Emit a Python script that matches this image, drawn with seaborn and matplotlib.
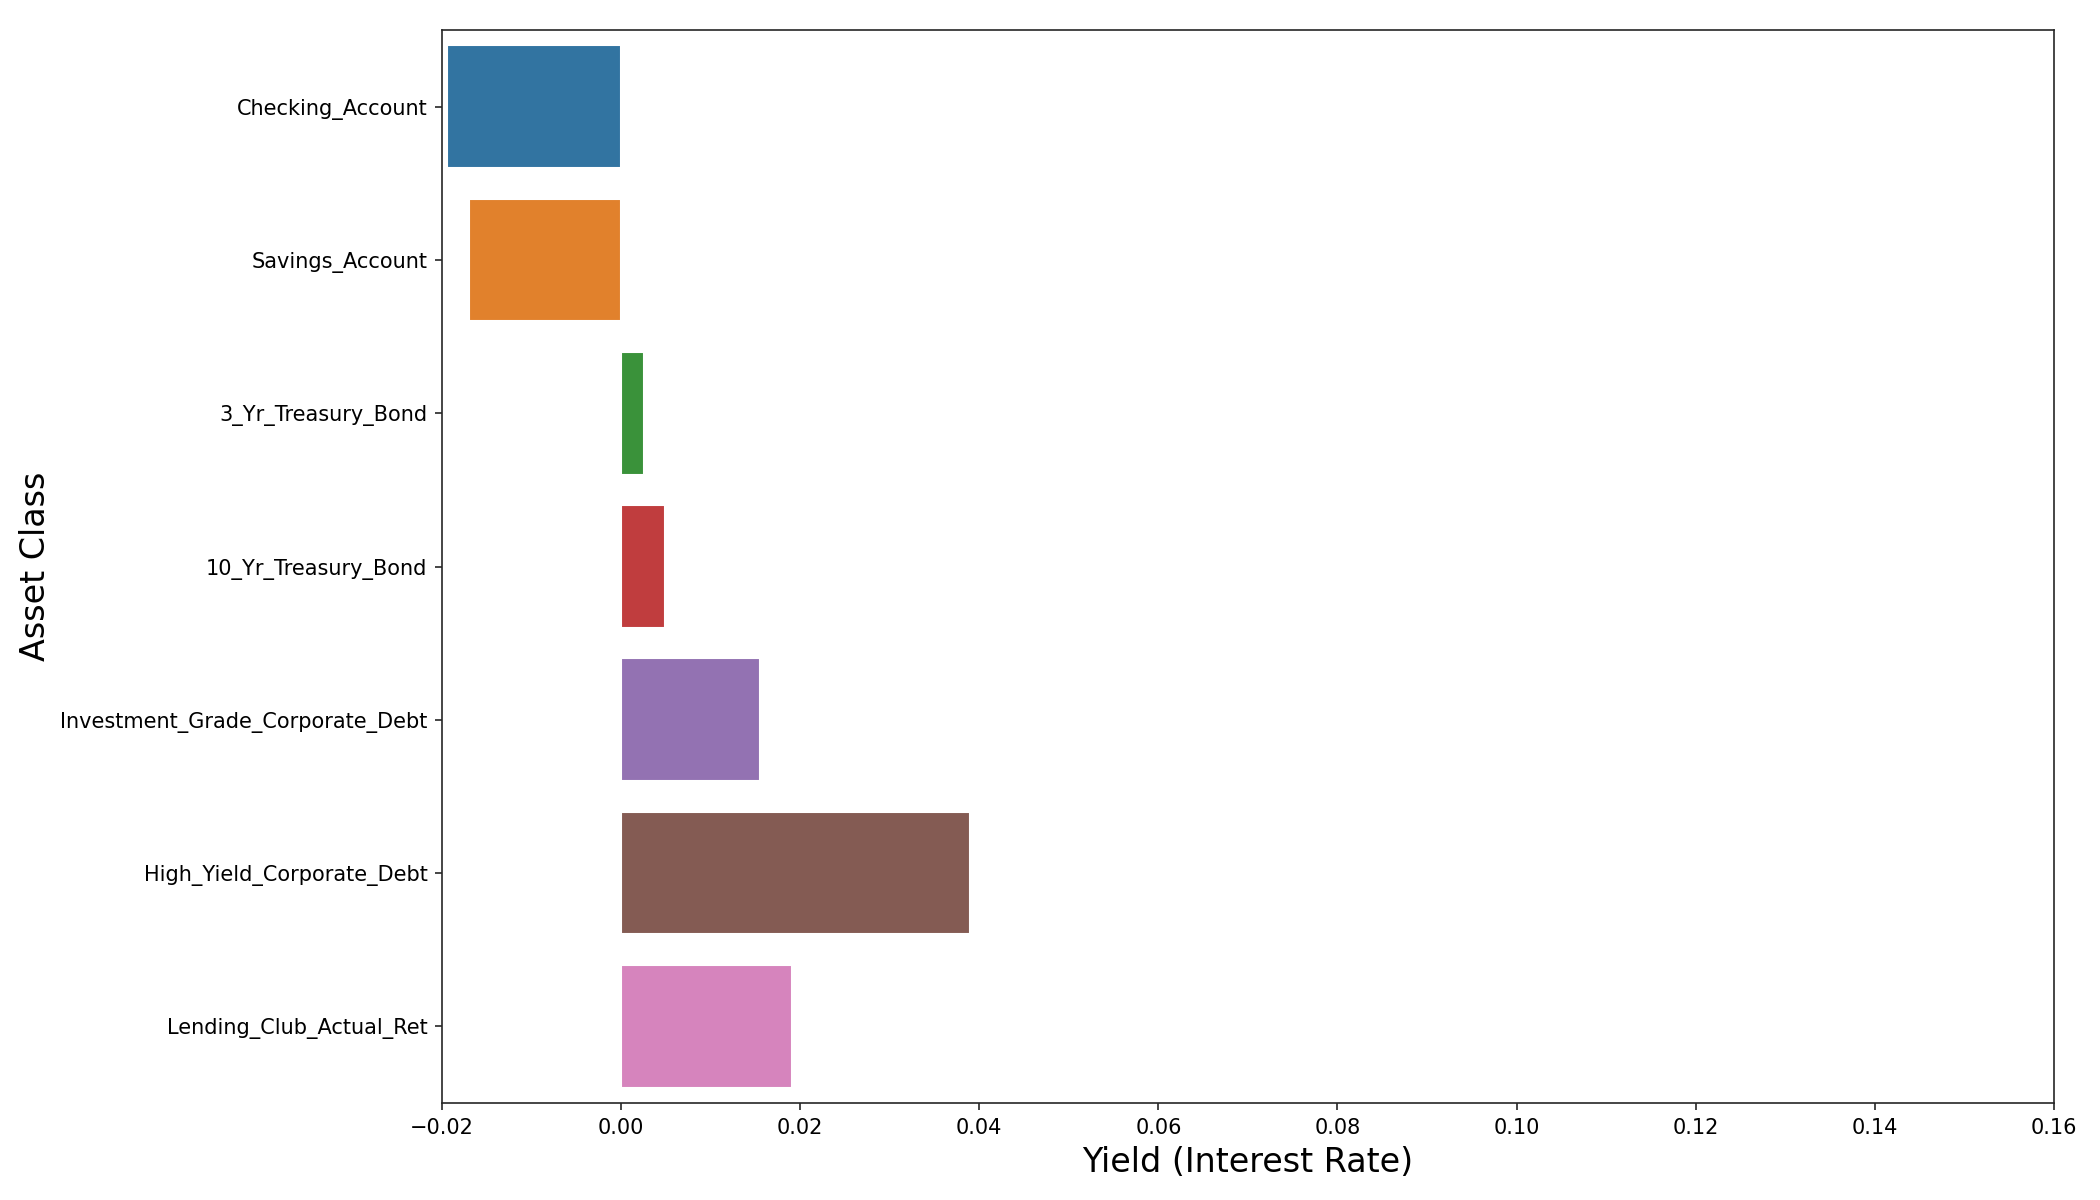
import matplotlib
matplotlib.use("Agg")
import matplotlib.pyplot as plt
import seaborn as sns
import pandas as pd

asset_classes = [
    "Checking_Account",
    "Savings_Account",
    "3_Yr_Treasury_Bond",
    "10_Yr_Treasury_Bond",
    "Investment_Grade_Corporate_Debt",
    "High_Yield_Corporate_Debt",
    "Lending_Club_Actual_Ret",
]
yields = [-0.0194, -0.0170, 0.00257, 0.00492, 0.01553, 0.0390, 0.0191]

x_ticks = [-0.02, 0.00, 0.02, 0.04, 0.06, 0.08, 0.10, 0.12, 0.14, 0.16]

sns.set_style("ticks")
plt.rcParams["font.family"] = ["DejaVu Sans"]
plt.rcParams["text.color"] = "black"
plt.rcParams["xtick.labelcolor"] = "black"
plt.rcParams["ytick.labelcolor"] = "black"
plt.rcParams["axes.unicode_minus"] = True

df = pd.DataFrame({"Asset Class": asset_classes, "Yield": yields})

fig = plt.figure(figsize=(14, 8), dpi=150)
ax = fig.add_axes([0.2105, 0.0808, 0.978 - 0.2105, 0.975 - 0.0808])
sns.barplot(data=df, x="Yield", y="Asset Class", hue="Asset Class",
            palette="tab10", legend=False, ax=ax, orient="h")
ax.set_xlim(-0.02, 0.16)
ax.set_xticks(x_ticks)
ax.set_xticklabels([f"{t:.2f}".replace("-", "\u2212") for t in x_ticks], fontsize=10)
ax.tick_params(axis="y", labelsize=10)
ax.set_xlabel("Yield (Interest Rate)", fontsize=16, color="black")
ax.set_ylabel("Asset Class", fontsize=16, color="black")
for s in ax.spines.values():
    s.set_visible(True)

fig.savefig("out.png", dpi=150)
